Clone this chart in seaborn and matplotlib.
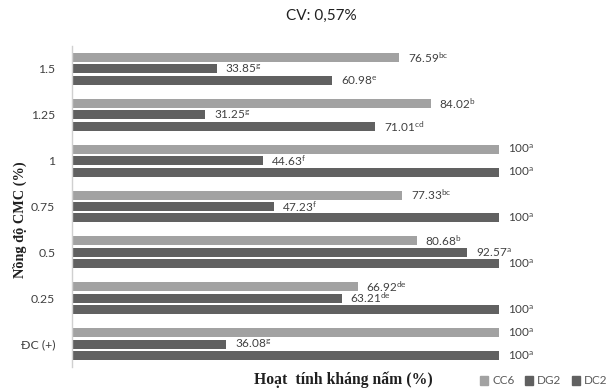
import matplotlib
matplotlib.use("Agg")
import matplotlib.pyplot as plt
import seaborn as sns
import pandas as pd

# Concentrations of CMC (top to bottom) and antifungal activity per strain
categories = ["1.5", "1.25", "1", "0.75", "0.5", "0.25", "ĐC (+)"]
series = ["CC6", "DG2", "DC2"]
cc6 = [76.59, 84.02, 100, 77.33, 80.68, 66.92, 100]
dg2 = [33.85, 31.25, 44.63, 47.23, 92.57, 63.21, 36.08]
dc2 = [60.98, 71.01, 100, 100, 100, 100, 100]
cc6_sig = ["bc", "b", "a", "bc", "b", "de", "a"]
dg2_sig = ["g", "g", "f", "f", "a", "de", "g"]
dc2_sig = ["e", "cd", "a", "a", "a", "a", "a"]

colors = {"CC6": "#a2a2a2", "DG2": "#606060", "DC2": "#616161"}

sns.set_theme(style="white")
plt.rcParams["font.family"] = ["Lato", "DejaVu Sans"]
plt.rcParams["mathtext.fontset"] = "custom"
plt.rcParams["mathtext.rm"] = "Lato"
plt.rcParams["mathtext.it"] = "Lato"
plt.rcParams["mathtext.bf"] = "Lato"

rows = []
for name, vals, sig in [("CC6", cc6, cc6_sig), ("DG2", dg2, dg2_sig), ("DC2", dc2, dc2_sig)]:
    for c, v, s in zip(categories, vals, sig):
        rows.append({"cat": c, "series": name, "value": v, "sig": s})
df = pd.DataFrame(rows)

fig = plt.figure(figsize=(6.10, 3.91), dpi=100)
ax = fig.add_axes([72 / 610, 1 - 367 / 391, 427 / 610, 321 / 391])

sns.barplot(data=df, y="cat", x="value", hue="series", order=categories,
            hue_order=series, palette=colors, orient="h", width=0.75,
            gap=0.22, linewidth=0, saturation=1, legend=False, ax=ax)

ax.set_xlim(0, 100)
ax.set_ylim(6.5, -0.5)
ax.set_xlabel("")
ax.set_ylabel("")
ax.set_xticks([])
ax.tick_params(axis="y", length=0, pad=12, labelsize=8.8, labelcolor="#404040")
for s in ["top", "right", "bottom"]:
    ax.spines[s].set_visible(False)
ax.spines["left"].set_color("#d0d0d0")
ax.spines["left"].set_linewidth(1.0)

# value labels with significance letters
for container, name in zip(ax.containers, series):
    sub = df[df["series"] == name].set_index("cat").loc[categories]
    for bar, (v, s) in zip(container, zip(sub["value"], sub["sig"])):
        y = bar.get_y() + bar.get_height() / 2
        ax.text(bar.get_width() + 2.0, y, f"{v:g}$^{{\\mathrm{{{s}}}}}$",
                va="center", ha="left", fontsize=8.5, color="#404040",
                clip_on=False)

fig.text(321 / 610, 1 - 16 / 391, "CV: 0,57%", ha="center", va="center",
         fontsize=11, color="#202020")
fig.text(343 / 610, 1 - 380 / 391, "Hoạt  tính kháng nấm (%)", ha="center",
         va="center", fontsize=11.3, fontweight="bold",
         family=["Liberation Serif", "DejaVu Serif"], color="#202020")
fig.text(20 / 610, 1 - 220 / 391, "Nồng độ CMC (%)", ha="center",
         va="center", rotation=90, fontsize=10.3, fontweight="bold",
         family=["Liberation Serif", "DejaVu Serif"], color="#202020")

handles = [plt.Rectangle((0, 0), 1, 1, color=colors[n]) for n in series]
leg = fig.legend(handles, series, loc="center right",
                 bbox_to_anchor=(607 / 610, 1 - 381 / 391), ncol=3,
                 frameon=False, fontsize=8.5, handlelength=0.7,
                 handleheight=0.7, handletextpad=0.3, columnspacing=0.9,
                 borderpad=0, borderaxespad=0)
for t in leg.get_texts():
    t.set_color("#595959")

fig.savefig("out.png", dpi=100)
